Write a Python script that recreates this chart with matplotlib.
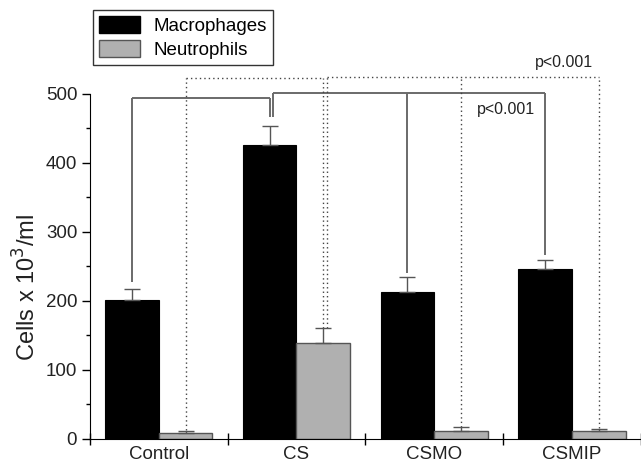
import matplotlib
matplotlib.use("Agg")
import matplotlib.pyplot as plt
import numpy as np
from matplotlib.patches import Patch
from matplotlib.ticker import MultipleLocator

plt.rcParams["font.family"] = ["Liberation Sans", "DejaVu Sans"]

# ── data ──
groups = ["Control", "CS", "CSMO", "CSMIP"]
macrophages = [201, 426, 213, 247]
macrophages_err = [16, 28, 22, 12]
neutrophils = [9, 139, 11, 11]
neutrophils_err = [3, 22, 6, 4]

BLACK = "#000000"
GREY = "#b0b0b0"
LINE = "#6a6a6a"

fig = plt.figure(figsize=(6.41, 4.63), dpi=100)
ax = fig.add_axes([0.140, 0.052, 0.860, 0.745])

x = np.arange(len(groups))
w = 0.39
mac_x = x - w / 2
neu_x = x + w / 2

ax.bar(mac_x, macrophages, w, color=BLACK, edgecolor=BLACK, linewidth=0.8, zorder=2)
ax.bar(neu_x, neutrophils, w, color=GREY, edgecolor="#555555", linewidth=1.0, zorder=2)
ax.errorbar(mac_x, macrophages, yerr=[np.zeros(4), macrophages_err], fmt="none",
            ecolor="#555555", elinewidth=1.0, capsize=5.5, capthick=1.0, zorder=3)
ax.errorbar(neu_x, neutrophils, yerr=[np.zeros(4), neutrophils_err], fmt="none",
            ecolor="#555555", elinewidth=1.0, capsize=5.5, capthick=1.0, zorder=3)


def bracket(xs, bottoms, top, **kw):
    """画显著性括号：每根竖线从 bottom 到 top，再连一条横线。"""
    for xi, b in zip(xs, bottoms):
        ax.plot([xi, xi], [b, top], clip_on=False, **kw)
    ax.plot([min(xs), max(xs)], [top, top], clip_on=False, **kw)


mac_top = [m + e for m, e in zip(macrophages, macrophages_err)]
neu_top = [n + e for n, e in zip(neutrophils, neutrophils_err)]

solid = dict(color=LINE, linewidth=1.4, solid_capstyle="butt")
dotted = dict(color="#444444", linewidth=1.0, linestyle=(0, (1, 2.2)))

# 巨噬细胞：Control vs CS，CS vs CSMO / CSMIP
bracket([mac_x[0], mac_x[1]], [mac_top[0] + 10, mac_top[1] + 13], 494, **solid)
bracket([mac_x[1] + 0.025, mac_x[2], mac_x[3]],
        [mac_top[1] + 13, mac_top[2] + 5, mac_top[3] + 8], 501, **solid)

# 中性粒细胞：虚线括号
bracket([neu_x[0], neu_x[1]], [neu_top[0] + 1, neu_top[1]], 523, **dotted)
bracket([neu_x[1] + 0.03, neu_x[2], neu_x[3]],
        [neu_top[1], neu_top[2] + 1, neu_top[3] + 1], 525, **dotted)

ax.text(2.94, 545, "p<0.001", ha="center", va="center", fontsize=11.5, color="#222222")
ax.text(2.52, 477, "p<0.001", ha="center", va="center", fontsize=11.5, color="#222222")

ax.set_xlim(-0.5, 3.5)
ax.set_ylim(0, 500)
ax.spines["top"].set_visible(False)
ax.spines["right"].set_visible(False)
ax.spines["left"].set_bounds(0, 500)

ax.set_xticks(x)
ax.set_xticklabels(groups, fontsize=13.5, color="#222222")
ax.tick_params(axis="x", which="major", length=0, pad=5)
ax.set_xticks(np.arange(-0.5, 3.6, 1.0), minor=True)
ax.tick_params(axis="x", which="minor", direction="inout", length=8, width=1)

ax.yaxis.set_major_locator(MultipleLocator(100))
ax.yaxis.set_minor_locator(MultipleLocator(50))
ax.tick_params(axis="y", which="major", length=6, width=1, labelsize=13.5,
               labelcolor="#222222", pad=3)
ax.tick_params(axis="y", which="minor", length=3, width=1)

ax.set_ylabel("Cells x 10$^3$/ml", fontsize=17, color="#222222")
ax.yaxis.set_label_coords(-0.09, 0.44)

handles = [Patch(facecolor=BLACK, edgecolor=BLACK, label="Macrophages"),
           Patch(facecolor=GREY, edgecolor="#555555", label="Neutrophils")]
leg = fig.legend(handles=handles, loc="upper left", bbox_to_anchor=(0.145, 0.978),
                 fontsize=13.5, frameon=True, fancybox=False, edgecolor="black",
                 handlelength=2.2, handleheight=1.0, labelspacing=0.3,
                 borderpad=0.3, handletextpad=0.75, borderaxespad=0)
leg.get_frame().set_linewidth(1.0)

fig.savefig("out.png", dpi=100)
